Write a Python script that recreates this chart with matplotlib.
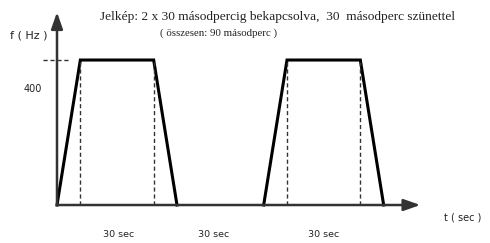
import numpy as np
import matplotlib.pyplot as plt

# signal shape (time in sec, frequency in Hz)
t_pulse1 = [0, 7, 29, 36]
t_pulse2 = [62, 69, 91, 98]
f_pulse = [0, 500, 500, 0]
f_tick = [400]
period_labels = ["30 sec", "30 sec", "30 sec"]
period_centers = [18.5, 47, 80]
t_max = 109
f_max = 665

title = "Jelkép: 2 x 30 másodpercig bekapcsolva,  30  másodperc szünettel"
subtitle = "( összesen: 90 másodperc )"

fig = plt.figure(figsize=(4.9, 2.43), dpi=100)
ax = fig.add_axes([0, 0, 1, 1])
ax.set_xlim(-17.1, 129.9)
ax.set_ylim(-131, 707)
ax.axis("off")

# axes with arrows
arrow = dict(arrowstyle="-|>,head_length=1.0,head_width=0.35",
             color="#333333", lw=1.8, shrinkA=0, shrinkB=0)
ax.annotate("", xy=(t_max, 0), xytext=(0, 0), arrowprops=arrow)
ax.annotate("", xy=(0, f_max), xytext=(0, 0), arrowprops=arrow)

# pulses
for tp in (t_pulse1, t_pulse2):
    ax.plot(tp, f_pulse, color="black", lw=2.2, solid_joinstyle="miter")
    for tx in tp[1:3]:
        ax.plot([tx, tx], [0, f_pulse[1]], color="#333333", lw=1.0,
                linestyle=(0, (3, 2)))

# plateau level marker
ax.plot([-4.2, 3.3], [f_pulse[1], f_pulse[1]], color="#333333", lw=1.0,
        linestyle=(0, (3, 2)))

sans = ["DejaVu Sans"]
ax.text(-4.5, f_tick[0], str(f_tick[0]), ha="right", va="center",
        fontsize=7, family=sans, color="#222222")
ax.text(-14, 585, "f ( Hz )", ha="left", va="center", fontsize=8,
        family=sans, color="#222222")
ax.text(116, -42, "t ( sec )", ha="left", va="center", fontsize=7,
        family=sans, color="#222222")

for c, lab in zip(period_centers, period_labels):
    ax.text(c, -103, lab, ha="center", va="center", fontsize=6.8,
            family=sans, color="#222222")

ax.text(13, 648, title, ha="left", va="center", fontsize=9.6,
        family="Liberation Serif", color="#222222")
ax.text(48.3, 592, subtitle, ha="center", va="center", fontsize=7.8,
        family="Liberation Serif", color="#222222")

fig.savefig("out.png", dpi=100)
